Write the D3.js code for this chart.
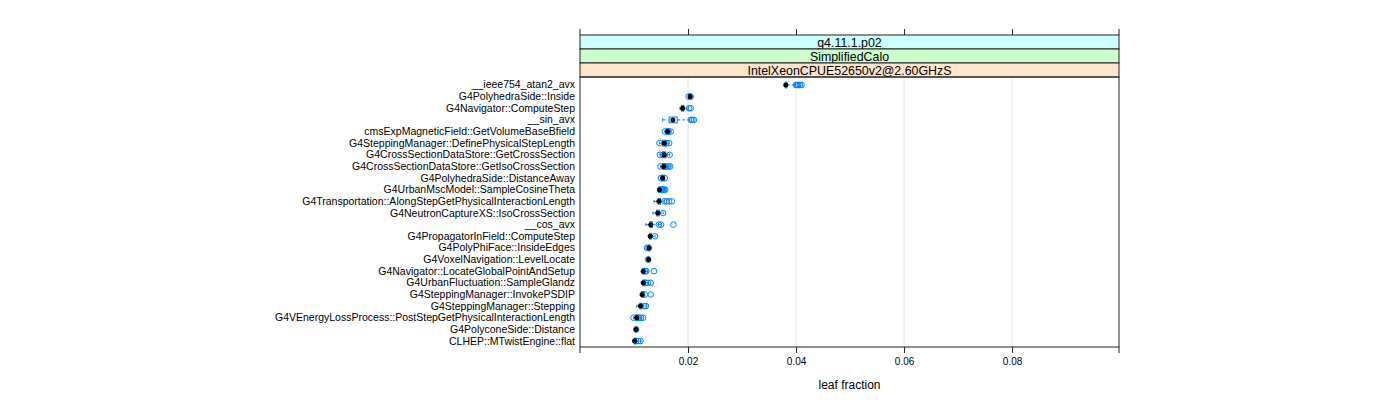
<!DOCTYPE html>
<html>
<head>
<meta charset="utf-8">
<script src="https://cdn.jsdelivr.net/npm/d3@7"></script>
<style>
  body { margin:0; background:#fff; }
  #canvas { width:1400px; height:400px; }
  text { font-family: "Liberation Sans", Arial, Helvetica, sans-serif; }
</style>
</head>
<body>
<div id="canvas" class="canvas"></div>
<script>
// functions, top to bottom (sorted by median leaf fraction)
var funcs = [
  '__ieee754_atan2_avx',
  'G4PolyhedraSide::Inside',
  'G4Navigator::ComputeStep',
  '__sin_avx',
  'cmsExpMagneticField::GetVolumeBaseBfield',
  'G4SteppingManager::DefinePhysicalStepLength',
  'G4CrossSectionDataStore::GetCrossSection',
  'G4CrossSectionDataStore::GetIsoCrossSection',
  'G4PolyhedraSide::DistanceAway',
  'G4UrbanMscModel::SampleCosineTheta',
  'G4Transportation::AlongStepGetPhysicalInteractionLength',
  'G4NeutronCaptureXS::IsoCrossSection',
  '__cos_avx',
  'G4PropagatorInField::ComputeStep',
  'G4PolyPhiFace::InsideEdges',
  'G4VoxelNavigation::LevelLocate',
  'G4Navigator::LocateGlobalPointAndSetup',
  'G4UrbanFluctuation::SampleGlandz',
  'G4SteppingManager::InvokePSDIP',
  'G4SteppingManager::Stepping',
  'G4VEnergyLossProcess::PostStepGetPhysicalInteractionLength',
  'G4PolyconeSide::Distance',
  'CLHEP::MTwistEngine::flat'
];

// box-and-whisker stats per function
var med = [0.0381,0.0204,0.0190,0.0172,0.0162,0.0156,0.0156,0.0155,0.0153,0.0147,0.0146,0.0144,0.0131,0.0130,0.0128,0.0127,0.0117,0.0117,0.0115,0.0112,0.0105,0.0104,0.0101];
var q1  = [0.0380,0.0202,0.0188,0.0165,0.0160,0.0153,0.0153,0.0153,0.0151,0.0146,0.0145,0.0142,0.0129,0.0129,0.0126,0.0126,0.0116,0.0116,0.0114,0.0111,0.0103,0.0103,0.0100];
var q3  = [0.0383,0.0205,0.0192,0.0180,0.0165,0.0160,0.0159,0.0160,0.0156,0.0152,0.0149,0.0147,0.0134,0.0132,0.0129,0.0128,0.0120,0.0121,0.0119,0.0114,0.0109,0.0105,0.0104];
var lo  = [0.0379,0.0201,0.0185,0.0153,0.0157,0.0147,0.0148,0.0149,0.0150,0.0145,0.0137,0.0135,0.0122,0.0128,0.0124,0.0125,0.0115,0.0115,0.0113,0.0105,0.0099,0.0102,0.0099];
var hi  = [0.0398,0.0205,0.0200,0.0203,0.0168,0.0165,0.0166,0.0167,0.0157,0.0158,0.0156,0.0154,0.0150,0.0139,0.0129,0.0128,0.0126,0.0126,0.0120,0.0122,0.0117,0.0105,0.0112];

// individual runs (open circles)
var runs = [
  [0.0400,0.0402,0.0404,0.0407,0.0410],
  [0.0201,0.0205],
  [0.0202,0.0205],
  [0.0205,0.0208,0.0211],
  [0.0157,0.0164,0.0168],
  [0.0147,0.0160,0.0165],
  [0.0148,0.0154,0.0166],
  [0.0149,0.0160,0.0164,0.0167],
  [0.0150,0.0157],
  [0.0150,0.0152,0.0154,0.0156,0.0158],
  [0.0156,0.0160,0.0165,0.0170],
  [0.0154],
  [0.0146,0.0150,0.0173],
  [0.0139],
  [0.0124,0.0127],
  [0.0126],
  [0.0120,0.0123,0.0137],
  [0.0122,0.0126,0.0131],
  [0.0120,0.0131],
  [0.0119,0.0122],
  [0.0099,0.0109,0.0113,0.0117],
  [0.0104],
  [0.0104,0.0108,0.0112]
];

var xTicks = [0.02, 0.04, 0.06, 0.08];
var strips = ['g4.11.1.p02', 'SimplifiedCalo', 'IntelXeonCPUE52650v2@2.60GHzS'];
var stripColors = ['#ccffff', '#ccffcc', '#ffe5cc'];

var rows = funcs.map(function(f, i){
  return {name:f, med:med[i], q1:q1[i], q3:q3[i], lo:lo[i], hi:hi[i], runs:runs[i]};
});

var outerWidth = 1400, outerHeight = 400;
var panel = {l:580, r:1119, t:77, b:347};
var stripH = 14;

var svg = d3.select('.canvas')
  .append('svg')
  .attr('width', outerWidth)
  .attr('height', outerHeight);

var scaleX = d3.scaleLinear()
  .domain([0.0, 0.0998])
  .range([panel.l, panel.r]);

var scaleY = d3.scalePoint()
  .domain(funcs)
  .range([panel.t, panel.b])
  .padding(0.6);

var blue = '#0080ff';

// grid lines
svg.selectAll('.grid')
  .data(xTicks)
  .enter()
  .append('line')
  .attr('class','grid')
  .attr('x1', function(d){return scaleX(d);})
  .attr('x2', function(d){return scaleX(d);})
  .attr('y1', panel.t)
  .attr('y2', panel.b)
  .style('stroke','#e6e6e6')
  .style('stroke-width',1);

// strips
var stripTop = panel.t - stripH*strips.length;
strips.forEach(function(s, i){
  var y0 = stripTop + i*stripH;
  svg.append('rect')
    .attr('x', panel.l).attr('y', y0)
    .attr('width', panel.r - panel.l).attr('height', stripH)
    .style('fill', stripColors[i])
    .style('stroke','#222').style('stroke-width',1);
  svg.append('text')
    .attr('x', (panel.l + panel.r)/2)
    .attr('y', y0 + stripH/2 + 4.5)
    .attr('text-anchor','middle')
    .style('font-size','12.4px')
    .text(s);
});

// panel box
svg.append('rect')
  .attr('x', panel.l).attr('y', panel.t)
  .attr('width', panel.r - panel.l).attr('height', panel.b - panel.t)
  .style('fill','none')
  .style('stroke','#222').style('stroke-width',1);

// bottom axis
var axisBottom = d3.axisBottom(scaleX)
  .tickValues(xTicks)
  .tickSize(6)
  .tickPadding(5)
  .tickFormat(d3.format('.2f'));

var gx = svg.append('g')
  .attr('class','axis axis-x')
  .attr('transform','translate(0,' + panel.b + ')')
  .call(axisBottom);
gx.select('.domain').remove();
gx.selectAll('line').style('stroke','#222');
gx.selectAll('text').style('font-size','10px').style('font-family','Liberation Sans, Arial, sans-serif').style('fill','#000');

// top axis (ticks only, above strips)
var axisTop = d3.axisTop(scaleX)
  .tickValues(xTicks)
  .tickSize(6)
  .tickFormat('');
var gt = svg.append('g')
  .attr('transform','translate(0,' + stripTop + ')')
  .call(axisTop);
gt.select('.domain').remove();
gt.selectAll('line').style('stroke','#222');

// border extensions at corners
[panel.l, panel.r].forEach(function(x){
  svg.append('line').attr('x1',x).attr('x2',x).attr('y1',stripTop-6).attr('y2',stripTop).style('stroke','#222');
  svg.append('line').attr('x1',x).attr('x2',x).attr('y1',panel.b).attr('y2',panel.b+6).style('stroke','#222');
});

// y labels
svg.selectAll('.ylab')
  .data(rows)
  .enter()
  .append('text')
  .attr('class','ylab')
  .attr('x', panel.l - 5)
  .attr('y', function(d){return scaleY(d.name) + 4.5;})
  .attr('text-anchor','end')
  .style('font-size','10.5px')
  .text(function(d){return d.name;});

// axis title
svg.append('text')
  .attr('x', (panel.l + panel.r)/2)
  .attr('y', 389)
  .attr('text-anchor','middle')
  .style('font-size','12px')
  .text('leaf fraction');

// box and whiskers
var boxH = scaleY.step()/2;
var nodes = svg.selectAll('.fn')
  .data(rows)
  .enter()
  .append('g')
  .attr('class','fn')
  .attr('transform', function(d){return 'translate(0,' + (scaleY(d.name) + 1) + ')';});

nodes.append('line')
  .attr('x1', function(d){return scaleX(d.lo);})
  .attr('x2', function(d){return scaleX(d.q1);})
  .style('stroke', blue).style('stroke-dasharray','3,2');
nodes.append('line')
  .attr('x1', function(d){return scaleX(d.q3);})
  .attr('x2', function(d){return scaleX(d.hi);})
  .style('stroke', blue).style('stroke-dasharray','3,2');
nodes.append('line')
  .attr('x1', function(d){return scaleX(d.lo);})
  .attr('x2', function(d){return scaleX(d.lo);})
  .attr('y1', -boxH/4).attr('y2', boxH/4)
  .style('stroke', blue);
nodes.append('line')
  .attr('x1', function(d){return scaleX(d.hi);})
  .attr('x2', function(d){return scaleX(d.hi);})
  .attr('y1', -boxH/4).attr('y2', boxH/4)
  .style('stroke', blue);
nodes.append('rect')
  .attr('x', function(d){return scaleX(d.q1);})
  .attr('y', -boxH/2)
  .attr('width', function(d){return scaleX(d.q3) - scaleX(d.q1);})
  .attr('height', boxH)
  .style('fill','none').style('stroke', blue);

// runs as open circles
nodes.selectAll('.run')
  .data(function(d){return d.runs;})
  .enter()
  .append('circle')
  .attr('class','run')
  .attr('cx', function(d){return scaleX(d);})
  .attr('cy', 0)
  .attr('r', 2.8)
  .style('fill','none')
  .style('stroke', blue)
  .style('stroke-width',1);

// median dot
nodes.append('circle')
  .attr('cx', function(d){return scaleX(d.med);})
  .attr('cy', 0)
  .attr('r', 2.5)
  .style('fill','#000');
</script>
</body>
</html>
